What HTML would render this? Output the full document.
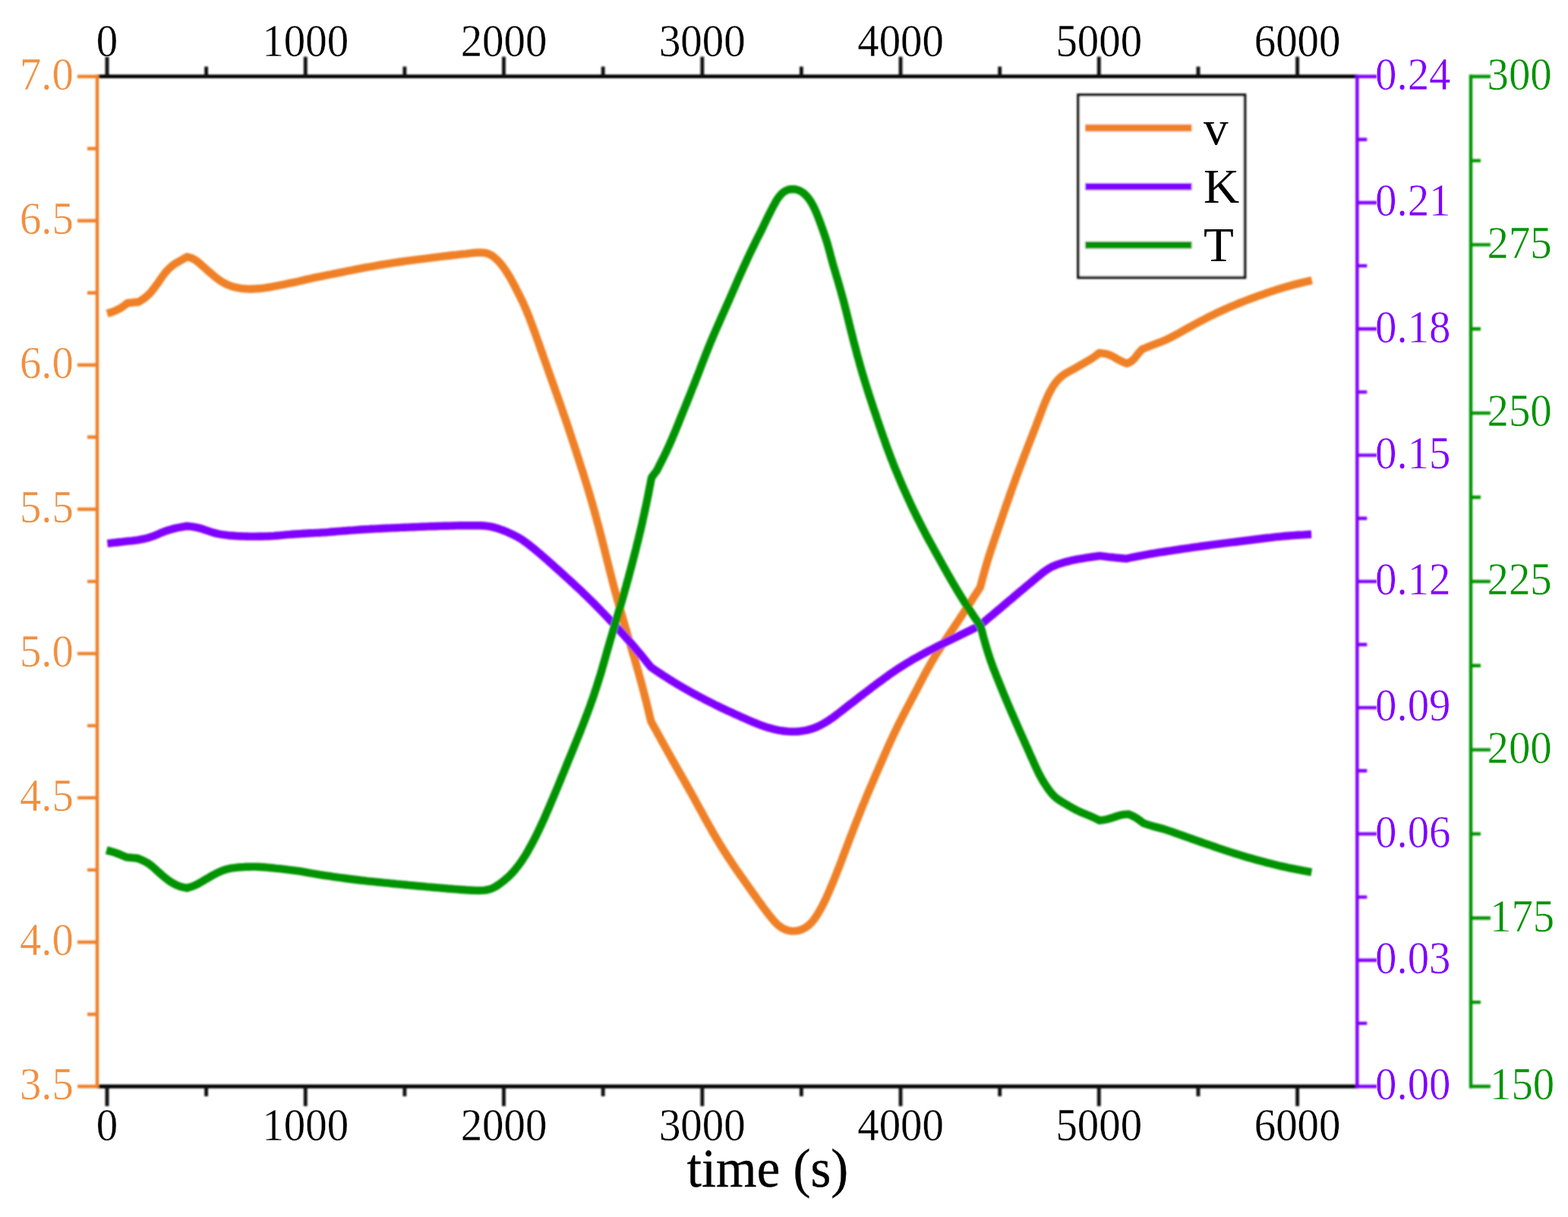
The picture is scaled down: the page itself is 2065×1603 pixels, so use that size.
<!DOCTYPE html>
<html lang="en"><head><meta charset="utf-8"><title>v, K, T versus time</title>
<style>html,body{margin:0;padding:0;background:#fff}body{width:2065px;height:1603px;overflow:hidden}svg{display:block}text{font-family:"Liberation Serif","DejaVu Serif",serif}</style></head><body>
<svg width="2065" height="1603" viewBox="0 0 2065 1603">
<rect width="2065" height="1603" fill="#fff"/>
<defs><filter id="soft" x="0" y="0" width="2065" height="1603" filterUnits="userSpaceOnUse"><feGaussianBlur stdDeviation="0.9"/></filter></defs>
<g filter="url(#soft)">
<g fill="none" stroke-width="10.4" stroke-linejoin="round" stroke-linecap="butt">
<path stroke="#EF8025" d="M141.1,413.0 145.0,411.8 148.9,410.5 152.6,409.0 156.2,407.2 159.7,405.2 163.1,403.0 167.9,399.2 172.1,398.8 176.2,398.3 182.5,397.7 186.0,395.6 189.4,393.3 192.5,390.9 195.5,388.2 198.3,385.4 200.8,382.3 203.3,379.1 205.7,375.8 208.1,372.6 210.4,369.2 212.7,365.9 215.0,362.6 217.5,359.4 220.1,356.4 222.9,353.5 225.9,350.8 229.0,348.4 232.4,346.2 235.9,344.2 239.4,342.2 242.9,340.2 246.4,338.2 250.3,339.3 254.0,340.7 257.4,342.6 260.6,345.0 263.7,347.6 266.7,350.3 269.7,352.9 272.7,355.6 275.7,358.2 278.7,360.8 281.8,363.5 284.9,366.0 288.1,368.4 291.4,370.6 294.8,372.7 298.4,374.5 302.1,376.1 305.8,377.3 309.7,378.4 313.6,379.2 317.6,379.8 321.6,380.3 325.6,380.6 329.6,380.7 333.5,380.5 337.5,380.3 341.5,380.0 345.5,379.6 349.5,379.1 353.4,378.5 357.4,377.8 361.3,377.0 365.2,376.3 369.1,375.5 373.1,374.8 377.0,374.0 380.9,373.2 384.8,372.4 388.7,371.6 392.6,370.7 396.5,369.8 400.4,368.9 404.3,367.9 408.2,367.1 412.1,366.2 416.0,365.4 419.9,364.6 423.9,363.8 427.8,363.0 431.7,362.2 435.6,361.5 439.5,360.7 443.5,359.9 447.4,359.1 451.3,358.3 455.2,357.5 459.1,356.7 463.1,356.0 467.0,355.2 470.9,354.4 474.8,353.7 478.8,352.9 482.7,352.2 486.6,351.5 490.5,350.8 494.5,350.1 498.4,349.4 502.4,348.7 506.3,348.1 510.3,347.4 514.2,346.8 518.2,346.2 522.1,345.6 526.1,345.0 530.0,344.5 534.0,343.9 537.9,343.4 541.9,342.9 545.9,342.4 549.8,341.9 553.8,341.4 557.8,340.9 561.7,340.4 565.7,339.9 569.7,339.4 573.6,338.9 577.6,338.4 581.6,337.9 585.5,337.4 589.5,337.0 593.5,336.5 597.4,336.0 601.4,335.6 605.4,335.1 609.4,334.7 613.3,334.3 617.3,333.8 621.3,333.4 625.3,333.0 629.3,332.7 633.3,332.6 637.3,332.9 641.1,333.7 644.8,335.0 648.2,336.9 651.4,339.3 654.4,342.0 657.2,344.9 659.8,347.9 662.3,351.1 664.6,354.4 666.8,357.7 669.0,361.1 671.1,364.5 673.1,367.9 675.0,371.4 676.9,375.0 678.7,378.5 680.5,382.1 682.3,385.6 684.2,389.2 685.9,392.8 687.7,396.4 689.4,400.0 691.0,403.7 692.6,407.3 694.1,411.0 695.6,414.7 697.1,418.4 698.5,422.2 699.9,425.9 701.3,429.7 702.7,433.4 704.1,437.2 705.4,440.9 706.8,444.7 708.1,448.4 709.5,452.2 710.8,456.0 712.1,459.8 713.5,463.5 714.8,467.3 716.1,471.1 717.4,474.8 718.8,478.6 720.1,482.4 721.4,486.1 722.8,489.9 724.1,493.7 725.4,497.4 726.8,501.2 728.1,505.0 729.5,508.7 730.8,512.5 732.1,516.3 733.5,520.0 734.8,523.8 736.1,527.6 737.5,531.4 738.8,535.1 740.1,538.9 741.4,542.7 742.7,546.5 744.0,550.2 745.3,554.0 746.6,557.8 747.9,561.6 749.1,565.4 750.4,569.2 751.6,573.0 752.9,576.8 754.1,580.6 755.4,584.4 756.6,588.2 757.9,592.0 759.1,595.8 760.3,599.6 761.6,603.4 762.8,607.2 764.0,611.0 765.2,614.8 766.4,618.6 767.7,622.4 768.9,626.2 770.0,630.0 771.2,633.8 772.4,637.7 773.6,641.5 774.7,645.3 775.9,649.1 777.0,653.0 778.1,656.8 779.3,660.6 780.4,664.5 781.4,668.3 782.5,672.2 783.6,676.0 784.6,679.9 785.7,683.7 786.7,687.6 787.8,691.5 788.8,695.3 789.8,699.2 790.8,703.1 791.8,706.9 792.8,710.8 793.8,714.7 794.8,718.6 795.8,722.4 796.7,726.3 797.7,730.2 798.7,734.1 799.6,737.9 800.6,741.8 801.6,745.7 802.5,749.6 803.5,753.5 804.5,757.3 805.5,761.2 806.5,765.1 807.5,768.9 808.5,772.8 809.5,776.6 810.6,780.5 811.6,784.4 812.7,788.2 813.8,792.0 814.9,795.9 816.0,799.7 817.1,803.6 818.2,807.4 819.3,811.3 820.4,815.1 821.5,818.9 822.6,822.8 823.7,826.6 824.8,830.5 825.9,834.3 827.0,838.1 828.2,842.0 829.3,845.8 830.4,849.6 831.5,853.5 832.6,857.3 833.7,861.2 834.9,865.0 836.0,868.8 837.1,872.7 838.2,876.5 839.3,880.4 840.4,884.2 841.5,888.0 842.5,891.9 843.6,895.7 844.7,899.6 845.7,903.5 846.7,907.3 847.7,911.2 848.7,915.1 849.7,918.9 850.7,922.8 851.7,926.7 852.6,930.6 853.6,934.5 854.5,938.3 855.4,942.2 856.4,946.1 857.3,950.0 859.2,953.5 861.1,957.0 863.1,960.5 865.0,964.0 866.9,967.5 868.9,971.0 870.8,974.5 872.7,978.0 874.7,981.5 876.6,985.0 878.6,988.5 880.5,992.0 882.5,995.4 884.4,998.9 886.4,1002.4 888.4,1005.9 890.3,1009.4 892.3,1012.8 894.3,1016.3 896.3,1019.8 898.2,1023.3 900.2,1026.7 902.2,1030.2 904.1,1033.7 906.1,1037.2 908.0,1040.7 910.0,1044.2 911.9,1047.7 913.9,1051.2 915.8,1054.7 917.7,1058.2 919.6,1061.7 921.5,1065.2 923.5,1068.7 925.4,1072.2 927.3,1075.7 929.2,1079.2 931.2,1082.7 933.1,1086.2 935.1,1089.7 937.0,1093.1 939.0,1096.6 941.0,1100.1 943.0,1103.5 945.1,1106.9 947.1,1110.4 949.2,1113.8 951.3,1117.2 953.4,1120.5 955.6,1123.9 957.8,1127.3 959.9,1130.6 962.1,1133.9 964.4,1137.3 966.6,1140.6 968.8,1143.9 971.1,1147.2 973.4,1150.4 975.7,1153.7 978.0,1157.0 980.3,1160.3 982.6,1163.5 984.9,1166.8 987.2,1170.0 989.5,1173.3 991.8,1176.6 994.2,1179.8 996.5,1183.1 998.8,1186.3 1001.2,1189.5 1003.5,1192.8 1005.9,1196.0 1008.3,1199.2 1010.7,1202.4 1013.2,1205.6 1015.8,1208.8 1018.4,1211.9 1021.1,1214.9 1023.9,1217.7 1026.9,1220.2 1030.2,1222.4 1033.7,1224.2 1037.4,1225.5 1041.2,1226.2 1045.1,1226.4 1049.0,1226.1 1052.9,1225.3 1056.6,1224.0 1060.1,1222.2 1063.4,1220.0 1066.4,1217.5 1069.2,1214.6 1071.8,1211.5 1074.1,1208.2 1076.3,1204.9 1078.4,1201.4 1080.4,1197.9 1082.3,1194.4 1084.2,1190.8 1085.9,1187.2 1087.7,1183.6 1089.3,1179.9 1091.0,1176.3 1092.5,1172.6 1094.1,1168.9 1095.6,1165.3 1097.2,1161.6 1098.7,1157.9 1100.2,1154.2 1101.7,1150.4 1103.1,1146.7 1104.6,1143.0 1106.0,1139.3 1107.5,1135.6 1108.9,1131.8 1110.3,1128.1 1111.7,1124.3 1113.1,1120.6 1114.5,1116.9 1116.0,1113.1 1117.4,1109.4 1118.8,1105.7 1120.2,1101.9 1121.7,1098.2 1123.1,1094.5 1124.5,1090.7 1126.0,1087.0 1127.4,1083.3 1128.9,1079.6 1130.4,1075.9 1131.9,1072.2 1133.3,1068.4 1134.8,1064.7 1136.3,1061.0 1137.9,1057.3 1139.4,1053.6 1140.9,1049.9 1142.4,1046.3 1144.0,1042.6 1145.5,1038.9 1147.1,1035.2 1148.7,1031.5 1150.2,1027.9 1151.8,1024.2 1153.4,1020.5 1155.0,1016.9 1156.6,1013.2 1158.2,1009.5 1159.8,1005.9 1161.4,1002.2 1163.0,998.5 1164.6,994.9 1166.2,991.2 1167.8,987.6 1169.4,983.9 1171.1,980.3 1172.7,976.6 1174.4,973.0 1176.1,969.4 1177.8,965.8 1179.5,962.2 1181.2,958.6 1183.0,955.0 1184.8,951.4 1186.6,947.8 1188.4,944.3 1190.2,940.7 1192.1,937.2 1193.9,933.7 1195.8,930.1 1197.7,926.6 1199.5,923.1 1201.4,919.6 1203.3,916.0 1205.1,912.5 1207.0,909.0 1208.8,905.4 1210.7,901.9 1212.5,898.3 1214.4,894.8 1216.2,891.3 1218.1,887.8 1220.0,884.3 1221.9,880.8 1223.9,877.3 1225.8,873.8 1227.8,870.4 1229.9,867.0 1231.9,863.5 1234.0,860.2 1236.1,856.8 1238.3,853.4 1240.5,850.1 1242.6,846.7 1244.8,843.4 1247.0,840.1 1249.3,836.7 1251.5,833.4 1253.7,830.1 1255.9,826.8 1258.2,823.5 1260.4,820.1 1262.6,816.8 1264.8,813.5 1267.0,810.2 1269.2,806.8 1271.4,803.5 1273.6,800.1 1275.8,796.8 1278.0,793.4 1280.2,790.1 1282.3,786.7 1284.5,783.4 1286.7,780.0 1288.8,776.7 1291.0,773.3 1292.0,769.4 1293.0,765.6 1294.0,761.7 1295.1,757.9 1296.1,754.0 1297.2,750.2 1298.3,746.3 1299.4,742.5 1300.5,738.7 1301.7,734.9 1302.9,731.1 1304.2,727.3 1305.4,723.5 1306.7,719.7 1307.9,715.9 1309.2,712.1 1310.5,708.4 1311.8,704.6 1313.1,700.8 1314.4,697.0 1315.7,693.2 1317.0,689.5 1318.3,685.7 1319.6,681.9 1320.8,678.1 1322.1,674.4 1323.4,670.6 1324.7,666.8 1326.0,663.0 1327.4,659.3 1328.7,655.5 1330.0,651.7 1331.3,648.0 1332.7,644.2 1334.0,640.5 1335.4,636.7 1336.8,633.0 1338.1,629.2 1339.5,625.5 1340.9,621.7 1342.3,618.0 1343.8,614.3 1345.2,610.5 1346.6,606.8 1348.0,603.1 1349.4,599.3 1350.9,595.6 1352.3,591.9 1353.7,588.2 1355.2,584.4 1356.6,580.7 1358.1,577.0 1359.5,573.3 1361.0,569.5 1362.4,565.8 1363.9,562.1 1365.3,558.4 1366.7,554.7 1368.1,550.9 1369.6,547.2 1371.0,543.4 1372.4,539.7 1373.9,536.0 1375.3,532.3 1376.9,528.6 1378.5,524.9 1380.1,521.3 1381.8,517.7 1383.7,514.2 1385.6,510.7 1387.8,507.3 1390.1,504.1 1392.7,501.0 1395.4,498.1 1398.4,495.5 1401.6,493.1 1405.0,491.1 1408.5,489.1 1412.0,487.2 1415.5,485.2 1419.0,483.2 1422.4,481.2 1425.9,479.2 1429.3,477.2 1432.8,475.2 1436.2,473.2 1439.6,471.1 1442.9,468.8 1447.5,465.0 1451.4,465.3 1455.3,465.8 1459.1,466.8 1462.7,468.2 1466.2,470.0 1469.7,471.9 1473.1,473.9 1476.6,475.7 1480.2,477.3 1483.8,478.8 1487.6,477.3 1490.9,475.3 1493.7,472.6 1496.2,469.4 1498.7,466.1 1501.4,463.0 1504.2,460.0 1507.9,458.5 1511.6,457.0 1515.3,455.5 1519.1,454.0 1522.8,452.6 1526.6,451.2 1530.3,449.8 1534.0,448.3 1537.6,446.6 1541.2,444.8 1544.8,443.0 1548.3,441.1 1551.8,439.2 1555.3,437.2 1558.8,435.3 1562.3,433.3 1565.8,431.4 1569.3,429.5 1572.8,427.5 1576.4,425.6 1579.9,423.7 1583.4,421.9 1587.0,420.0 1590.5,418.2 1594.1,416.4 1597.7,414.6 1601.3,412.8 1604.9,411.1 1608.5,409.5 1612.2,407.8 1615.8,406.2 1619.5,404.6 1623.2,403.0 1626.9,401.5 1630.6,399.9 1634.3,398.4 1638.0,397.0 1641.8,395.5 1645.5,394.1 1649.2,392.7 1653.0,391.3 1656.8,389.9 1660.5,388.6 1664.3,387.3 1668.1,385.9 1671.9,384.7 1675.7,383.4 1679.5,382.2 1683.3,380.9 1687.1,379.8 1691.0,378.6 1694.8,377.5 1698.7,376.4 1702.5,375.4 1706.4,374.4 1710.3,373.4 1714.2,372.4 1718.1,371.5 1721.9,370.6 1727.8,369.2"/>
<path stroke="#8000FF" d="M141.4,715.8 145.4,715.4 149.3,714.9 153.3,714.5 157.3,714.0 161.2,713.6 165.2,713.1 169.2,712.7 173.2,712.3 177.1,711.8 181.1,711.3 185.0,710.7 188.9,709.9 192.8,709.0 196.7,707.9 200.5,706.6 204.2,705.3 207.9,703.7 211.6,702.1 215.2,700.6 219.0,699.2 222.8,698.0 226.6,696.9 230.5,695.9 234.4,695.0 238.3,694.3 242.2,693.6 246.2,693.0 250.2,693.4 254.2,693.9 258.1,694.6 262.0,695.4 265.8,696.5 269.6,697.8 273.4,699.1 277.3,700.4 281.1,701.6 285.0,702.6 288.9,703.5 292.8,704.2 296.7,704.7 300.7,705.2 304.7,705.5 308.7,705.8 312.7,706.1 316.7,706.2 320.7,706.4 324.7,706.5 328.7,706.6 332.7,706.6 336.8,706.6 340.8,706.5 344.8,706.5 348.8,706.4 352.8,706.3 356.8,706.1 360.8,705.9 364.7,705.5 368.7,705.2 372.7,704.8 376.7,704.4 380.7,704.1 384.7,703.8 388.7,703.5 392.7,703.2 396.7,703.0 400.7,702.7 404.7,702.5 408.7,702.3 412.7,702.1 416.7,701.9 420.7,701.7 424.7,701.4 428.7,701.2 432.6,700.9 436.6,700.5 440.6,700.2 444.6,699.9 448.6,699.6 452.6,699.3 456.6,699.0 460.6,698.6 464.6,698.4 468.6,698.1 472.6,697.8 476.6,697.5 480.6,697.3 484.6,697.1 488.5,696.8 492.5,696.6 496.5,696.4 500.5,696.2 504.5,696.0 508.5,695.8 512.5,695.6 516.5,695.4 520.5,695.3 524.5,695.1 528.5,694.9 532.5,694.7 536.5,694.6 540.5,694.4 544.5,694.2 548.5,694.1 552.5,693.9 556.5,693.7 560.5,693.6 564.5,693.4 568.6,693.3 572.6,693.2 576.6,693.0 580.6,692.9 584.6,692.8 588.6,692.7 592.6,692.6 596.6,692.5 600.6,692.4 604.6,692.3 608.6,692.3 612.6,692.2 616.6,692.2 620.6,692.2 624.6,692.2 628.6,692.2 632.6,692.3 636.6,692.5 640.6,692.8 644.6,693.3 648.5,694.1 652.3,695.1 656.2,696.3 659.9,697.6 663.7,699.0 667.4,700.6 671.1,702.2 674.7,703.8 678.3,705.6 681.9,707.5 685.3,709.5 688.7,711.7 691.9,714.0 695.2,716.4 698.3,718.9 701.5,721.4 704.6,723.9 707.6,726.5 710.7,729.0 713.7,731.6 716.8,734.3 719.8,736.9 722.8,739.6 725.8,742.2 728.7,744.9 731.7,747.6 734.7,750.2 737.7,752.9 740.6,755.6 743.6,758.3 746.5,761.0 749.5,763.7 752.4,766.4 755.4,769.1 758.3,771.9 761.3,774.6 764.2,777.3 767.1,780.1 770.0,782.9 772.8,785.6 775.7,788.4 778.6,791.2 781.4,794.0 784.2,796.9 787.0,799.7 789.8,802.6 792.6,805.5 795.4,808.4 798.1,811.3 800.9,814.2 803.6,817.1 806.4,820.0 809.1,823.0 811.8,825.9 814.5,828.8 817.2,831.8 819.9,834.8 822.6,837.7 825.3,840.7 827.9,843.7 830.6,846.7 833.2,849.7 835.8,852.7 838.4,855.8 841.0,858.8 843.6,861.9 846.1,865.0 848.6,868.1 851.1,871.2 853.6,874.3 857.4,879.0 860.7,881.2 864.1,883.5 867.4,885.7 870.7,887.9 874.1,890.1 877.4,892.2 880.8,894.4 884.2,896.5 887.6,898.6 891.0,900.7 894.5,902.7 897.9,904.8 901.4,906.8 904.9,908.7 908.4,910.7 911.9,912.7 915.4,914.6 918.9,916.5 922.4,918.4 926.0,920.2 929.5,922.1 933.1,923.9 936.7,925.7 940.2,927.5 943.8,929.3 947.4,931.0 951.0,932.8 954.7,934.5 958.3,936.2 961.9,937.8 965.6,939.5 969.2,941.2 972.9,942.8 976.5,944.4 980.2,946.1 983.9,947.7 987.5,949.3 991.2,950.9 994.9,952.4 998.6,953.9 1002.4,955.3 1006.2,956.7 1010.0,957.9 1013.8,959.0 1017.7,960.1 1021.6,961.0 1025.5,961.8 1029.5,962.5 1033.5,963.0 1037.5,963.4 1041.5,963.6 1045.5,963.6 1049.5,963.5 1053.5,963.2 1057.5,962.7 1061.4,962.0 1065.3,961.1 1069.1,960.0 1072.9,958.6 1076.6,957.1 1080.2,955.4 1083.7,953.5 1087.2,951.5 1090.6,949.4 1093.9,947.2 1097.2,944.9 1100.4,942.5 1103.6,940.0 1106.8,937.6 1110.0,935.1 1113.1,932.7 1116.3,930.2 1119.5,927.7 1122.6,925.3 1125.8,922.8 1129.0,920.4 1132.1,917.9 1135.3,915.5 1138.5,913.0 1141.7,910.6 1144.9,908.2 1148.0,905.7 1151.2,903.3 1154.4,900.9 1157.7,898.5 1160.9,896.2 1164.1,893.8 1167.4,891.5 1170.6,889.1 1173.9,886.8 1177.2,884.6 1180.5,882.3 1183.8,880.1 1187.2,878.0 1190.6,875.8 1194.0,873.7 1197.4,871.7 1200.8,869.6 1204.3,867.6 1207.8,865.7 1211.3,863.7 1214.8,861.8 1218.3,859.9 1221.8,858.0 1225.4,856.2 1228.9,854.3 1232.5,852.5 1236.1,850.7 1239.7,848.9 1243.2,847.1 1246.8,845.3 1250.4,843.6 1254.0,841.8 1257.6,840.1 1261.2,838.3 1264.8,836.5 1268.4,834.8 1272.0,833.0 1275.6,831.3 1279.2,829.5 1282.8,827.7 1286.4,826.0 1290.0,824.2 1293.1,821.6 1296.2,819.0 1299.2,816.4 1302.3,813.8 1305.4,811.3 1308.5,808.7 1311.6,806.1 1314.6,803.5 1317.7,800.9 1320.8,798.3 1323.8,795.7 1326.9,793.1 1330.0,790.5 1333.1,787.9 1336.1,785.3 1339.2,782.7 1342.3,780.1 1345.4,777.5 1348.5,774.9 1351.6,772.3 1354.7,769.8 1357.8,767.2 1360.9,764.6 1364.0,762.0 1367.0,759.5 1370.1,756.9 1373.3,754.3 1376.5,752.0 1379.8,749.7 1385.0,746.6 1388.7,745.1 1392.3,743.7 1396.1,742.4 1399.8,741.2 1403.6,740.1 1407.5,739.1 1411.3,738.2 1415.2,737.4 1419.0,736.7 1422.9,736.0 1426.8,735.4 1430.7,734.7 1434.6,734.1 1438.5,733.5 1442.4,733.0 1448.3,732.1 1452.2,732.6 1456.1,733.1 1459.9,733.6 1463.8,734.0 1467.7,734.4 1471.6,734.8 1475.5,735.1 1479.4,735.5 1483.3,735.8 1487.2,735.0 1491.1,734.2 1495.1,733.4 1499.0,732.6 1502.9,731.8 1506.8,731.1 1510.8,730.4 1514.7,729.6 1518.7,729.0 1522.6,728.3 1526.5,727.7 1530.5,727.1 1534.5,726.5 1538.4,725.9 1542.4,725.3 1546.3,724.7 1550.3,724.1 1554.2,723.5 1558.2,722.9 1562.2,722.3 1566.1,721.8 1570.1,721.2 1574.0,720.6 1578.0,720.1 1582.0,719.5 1585.9,719.0 1589.9,718.5 1593.9,717.9 1597.8,717.4 1601.8,716.9 1605.8,716.4 1609.7,715.9 1613.7,715.4 1617.7,714.9 1621.6,714.4 1625.6,714.0 1629.6,713.5 1633.6,713.0 1637.5,712.5 1641.5,712.0 1645.5,711.5 1649.4,711.0 1653.4,710.5 1657.4,710.0 1661.4,709.5 1665.3,709.0 1669.3,708.5 1673.3,708.1 1677.2,707.6 1681.2,707.2 1685.2,706.8 1689.2,706.4 1693.2,706.0 1697.2,705.7 1701.1,705.4 1705.1,705.1 1709.1,704.8 1713.1,704.6 1717.1,704.4 1721.1,704.1 1727.1,703.8"/>
<path stroke="#009300" d="M140.2,1119.9 144.0,1120.9 147.9,1122.0 151.6,1123.1 155.4,1124.5 159.0,1125.9 162.7,1127.5 166.3,1129.1 170.5,1129.5 174.6,1129.9 180.9,1130.5 184.7,1131.9 188.3,1133.5 191.9,1135.3 195.2,1137.2 198.4,1139.5 201.4,1142.0 204.4,1144.7 207.3,1147.4 210.3,1150.0 213.3,1152.7 216.4,1155.2 219.4,1157.7 222.6,1160.1 225.9,1162.3 229.3,1164.3 232.9,1166.0 236.5,1167.4 240.3,1168.5 246.2,1169.7 250.1,1168.6 253.9,1167.3 257.5,1165.8 261.1,1164.0 264.6,1162.0 268.0,1160.0 271.4,1157.9 274.9,1155.9 278.3,1153.9 281.9,1152.0 285.4,1150.1 289.0,1148.4 292.7,1146.8 296.5,1145.5 300.3,1144.5 304.2,1143.7 308.2,1143.1 312.2,1142.6 316.2,1142.3 320.1,1142.1 324.1,1141.8 328.1,1141.7 332.1,1141.6 336.1,1141.6 340.1,1141.8 344.1,1142.0 348.1,1142.3 352.1,1142.6 356.1,1143.0 360.0,1143.3 364.0,1143.8 368.0,1144.2 372.0,1144.7 375.9,1145.2 379.9,1145.7 383.9,1146.1 387.8,1146.6 391.8,1147.2 395.7,1147.7 399.7,1148.4 403.6,1149.1 407.6,1149.8 411.5,1150.5 415.4,1151.2 419.4,1151.8 423.3,1152.5 427.3,1153.1 431.2,1153.6 435.2,1154.2 439.1,1154.8 443.1,1155.3 447.0,1155.9 451.0,1156.4 455.0,1157.0 458.9,1157.5 462.9,1158.0 466.9,1158.5 470.8,1159.0 474.8,1159.5 478.8,1159.9 482.7,1160.4 486.7,1160.8 490.7,1161.2 494.6,1161.6 498.6,1162.0 502.6,1162.4 506.6,1162.8 510.6,1163.2 514.5,1163.6 518.5,1164.0 522.5,1164.4 526.5,1164.7 530.4,1165.1 534.4,1165.5 538.4,1165.9 542.4,1166.2 546.4,1166.6 550.3,1167.0 554.3,1167.3 558.3,1167.7 562.3,1168.1 566.3,1168.4 570.2,1168.8 574.2,1169.1 578.2,1169.4 582.2,1169.8 586.2,1170.1 590.1,1170.5 594.1,1170.8 598.1,1171.1 602.1,1171.4 606.1,1171.7 610.1,1172.0 614.1,1172.3 618.0,1172.5 622.0,1172.7 626.1,1172.9 630.1,1173.0 634.1,1172.9 638.0,1172.6 642.0,1172.0 645.8,1171.0 649.5,1169.5 653.0,1167.6 656.3,1165.5 659.6,1163.1 662.8,1160.7 665.9,1158.1 668.9,1155.5 671.8,1152.8 674.5,1149.9 677.2,1146.9 679.7,1143.8 682.2,1140.7 684.6,1137.5 686.9,1134.2 689.1,1130.9 691.3,1127.5 693.4,1124.1 695.4,1120.6 697.3,1117.1 699.3,1113.6 701.2,1110.1 703.0,1106.6 704.9,1103.0 706.6,1099.5 708.4,1095.9 710.1,1092.3 711.8,1088.7 713.5,1085.0 715.2,1081.4 716.8,1077.8 718.4,1074.1 720.0,1070.4 721.6,1066.8 723.2,1063.1 724.8,1059.4 726.3,1055.7 727.9,1052.1 729.4,1048.4 731.0,1044.7 732.5,1041.0 734.1,1037.3 735.6,1033.6 737.1,1029.9 738.6,1026.2 740.1,1022.5 741.7,1018.8 743.2,1015.1 744.7,1011.4 746.2,1007.7 747.7,1004.0 749.2,1000.3 750.8,996.6 752.3,992.9 753.8,989.2 755.3,985.5 756.8,981.8 758.3,978.1 759.8,974.4 761.3,970.7 762.8,967.0 764.3,963.3 765.7,959.6 767.2,955.9 768.7,952.1 770.1,948.4 771.5,944.7 772.9,941.0 774.3,937.2 775.7,933.5 777.1,929.7 778.4,925.9 779.8,922.2 781.1,918.4 782.4,914.6 783.6,910.8 784.9,907.1 786.1,903.3 787.3,899.4 788.5,895.6 789.7,891.8 790.9,888.0 792.0,884.2 793.1,880.3 794.2,876.5 795.3,872.7 796.4,868.8 797.5,865.0 798.6,861.1 799.7,857.3 800.8,853.4 801.9,849.6 803.0,845.8 804.1,841.9 805.2,838.1 806.4,834.2 807.5,830.4 808.6,826.6 809.7,822.7 810.9,818.9 812.0,815.1 813.2,811.3 814.3,807.4 815.4,803.6 816.6,799.8 817.7,795.9 818.8,792.1 819.9,788.3 821.0,784.4 822.1,780.6 823.2,776.7 824.3,772.9 825.3,769.0 826.4,765.2 827.5,761.3 828.5,757.5 829.5,753.6 830.6,749.7 831.6,745.9 832.6,742.0 833.6,738.2 834.6,734.3 835.6,730.4 836.6,726.5 837.6,722.7 838.5,718.8 839.5,714.9 840.5,711.0 841.4,707.1 842.3,703.3 843.3,699.4 844.2,695.5 845.1,691.6 846.0,687.7 846.8,683.8 847.7,679.9 848.6,676.0 849.4,672.1 850.2,668.2 851.1,664.3 851.9,660.4 852.7,656.4 853.5,652.5 854.3,648.6 855.0,644.7 855.8,640.8 856.6,636.8 857.3,632.9 858.1,629.0 860.4,625.9 862.7,622.9 865.0,619.8 866.8,616.3 868.6,612.7 870.4,609.2 872.2,605.6 874.0,602.0 875.7,598.4 877.5,594.8 879.1,591.2 880.8,587.6 882.4,583.9 884.0,580.3 885.6,576.6 887.1,572.9 888.7,569.3 890.2,565.6 891.7,561.9 893.2,558.2 894.7,554.5 896.2,550.7 897.7,547.0 899.2,543.3 900.7,539.6 902.2,535.9 903.7,532.2 905.2,528.5 906.7,524.8 908.2,521.1 909.7,517.3 911.1,513.6 912.6,509.9 914.1,506.2 915.6,502.5 917.0,498.7 918.5,495.0 919.9,491.3 921.4,487.6 922.8,483.8 924.2,480.1 925.7,476.4 927.1,472.7 928.6,468.9 930.0,465.2 931.5,461.5 933.0,457.8 934.5,454.1 936.0,450.4 937.6,446.7 939.1,443.0 940.7,439.4 942.3,435.7 943.9,432.0 945.5,428.4 947.1,424.7 948.7,421.1 950.3,417.4 952.0,413.7 953.6,410.1 955.2,406.4 956.8,402.8 958.4,399.1 960.1,395.5 961.7,391.8 963.3,388.2 964.9,384.5 966.5,380.8 968.1,377.2 969.7,373.5 971.3,369.8 972.9,366.2 974.5,362.5 976.2,358.9 977.8,355.2 979.4,351.6 981.1,348.0 982.8,344.3 984.4,340.7 986.1,337.1 987.8,333.5 989.6,329.9 991.3,326.3 993.1,322.7 994.8,319.1 996.6,315.5 998.4,311.9 1000.2,308.4 1002.0,304.8 1003.8,301.2 1005.5,297.6 1007.2,294.0 1009.0,290.4 1010.7,286.8 1012.5,283.2 1014.3,279.6 1016.1,276.0 1018.0,272.3 1020.0,268.7 1022.0,265.1 1024.2,261.6 1026.6,258.4 1029.2,255.4 1032.1,252.9 1035.3,251.0 1038.8,249.7 1042.5,249.1 1046.3,249.2 1050.0,250.0 1053.6,251.4 1056.9,253.4 1060.0,255.9 1062.8,258.8 1065.3,262.0 1067.6,265.3 1069.7,268.9 1071.6,272.5 1073.4,276.2 1075.0,279.9 1076.5,283.6 1078.0,287.4 1079.4,291.1 1080.8,294.9 1082.1,298.6 1083.5,302.4 1084.8,306.2 1086.1,310.0 1087.4,313.7 1088.6,317.6 1089.8,321.4 1090.8,325.2 1091.9,329.1 1092.9,332.9 1093.9,336.8 1095.0,340.7 1096.0,344.5 1097.1,348.4 1098.2,352.2 1099.4,356.0 1100.5,359.9 1101.6,363.7 1102.8,367.5 1103.9,371.4 1105.0,375.2 1106.1,379.1 1107.2,382.9 1108.3,386.8 1109.3,390.6 1110.4,394.5 1111.4,398.3 1112.4,402.2 1113.4,406.1 1114.4,410.0 1115.3,413.8 1116.3,417.7 1117.3,421.6 1118.2,425.5 1119.2,429.4 1120.1,433.2 1121.1,437.1 1122.1,441.0 1123.1,444.9 1124.0,448.8 1125.0,452.6 1126.1,456.5 1127.1,460.4 1128.1,464.2 1129.1,468.1 1130.2,471.9 1131.3,475.8 1132.3,479.7 1133.4,483.5 1134.5,487.3 1135.6,491.2 1136.8,495.0 1137.9,498.8 1139.1,502.7 1140.3,506.5 1141.5,510.3 1142.7,514.1 1143.9,517.9 1145.1,521.7 1146.4,525.5 1147.6,529.3 1148.9,533.1 1150.1,536.9 1151.4,540.7 1152.7,544.5 1154.0,548.3 1155.2,552.1 1156.5,555.8 1157.8,559.6 1159.1,563.4 1160.4,567.2 1161.7,571.0 1163.0,574.8 1164.4,578.5 1165.7,582.3 1167.0,586.1 1168.4,589.8 1169.8,593.6 1171.2,597.3 1172.6,601.1 1174.0,604.8 1175.5,608.5 1176.9,612.2 1178.4,615.9 1179.9,619.6 1181.5,623.3 1183.0,627.0 1184.6,630.7 1186.1,634.4 1187.7,638.1 1189.3,641.7 1190.9,645.4 1192.6,649.0 1194.2,652.7 1195.9,656.3 1197.5,659.9 1199.2,663.6 1200.9,667.2 1202.6,670.8 1204.4,674.4 1206.1,678.0 1207.9,681.6 1209.7,685.2 1211.5,688.7 1213.3,692.3 1215.1,695.8 1217.0,699.4 1218.8,702.9 1220.7,706.4 1222.6,710.0 1224.5,713.5 1226.5,717.0 1228.4,720.5 1230.3,724.0 1232.2,727.5 1234.2,731.0 1236.1,734.5 1238.1,738.0 1240.0,741.5 1242.0,745.0 1243.9,748.5 1245.9,751.9 1247.8,755.4 1249.8,758.9 1251.8,762.4 1253.8,765.8 1255.8,769.3 1257.8,772.7 1259.9,776.2 1261.9,779.6 1264.0,783.0 1266.1,786.4 1268.2,789.8 1270.3,793.1 1272.5,796.5 1274.7,799.8 1276.8,803.2 1279.1,806.5 1281.3,809.8 1283.5,813.1 1285.7,816.4 1288.0,819.7 1291.3,824.6 1292.3,828.5 1293.4,832.3 1294.4,836.2 1295.4,840.0 1296.5,843.9 1297.6,847.7 1298.7,851.6 1299.9,855.4 1301.0,859.2 1302.3,863.0 1303.5,866.8 1304.8,870.6 1306.2,874.3 1307.5,878.1 1308.9,881.8 1310.4,885.5 1311.8,889.2 1313.3,892.9 1314.8,896.6 1316.3,900.3 1317.8,904.0 1319.3,907.7 1320.8,911.4 1322.3,915.1 1323.9,918.8 1325.4,922.5 1327.0,926.2 1328.5,929.8 1330.1,933.5 1331.7,937.2 1333.3,940.9 1334.9,944.5 1336.5,948.2 1338.1,951.8 1339.7,955.5 1341.3,959.2 1342.9,962.8 1344.5,966.5 1346.2,970.1 1347.8,973.8 1349.4,977.4 1351.0,981.1 1352.7,984.7 1354.3,988.4 1355.9,992.0 1357.5,995.7 1359.2,999.3 1360.8,1003.0 1362.4,1006.6 1364.1,1010.3 1365.8,1013.9 1367.5,1017.5 1369.3,1021.1 1371.2,1024.6 1373.2,1028.0 1375.3,1031.4 1377.5,1034.8 1379.7,1038.1 1382.1,1041.4 1384.5,1044.5 1387.2,1047.5 1390.1,1050.2 1393.2,1052.7 1396.5,1054.9 1399.9,1057.0 1403.4,1059.0 1406.8,1061.0 1410.3,1063.1 1413.8,1065.0 1417.3,1066.9 1420.9,1068.6 1424.5,1070.3 1428.2,1071.8 1431.9,1073.3 1435.6,1074.8 1439.3,1076.4 1442.9,1078.1 1448.3,1080.7 1452.4,1080.2 1456.4,1079.5 1460.4,1078.5 1464.3,1077.3 1468.1,1076.0 1472.0,1074.7 1476.0,1073.6 1480.0,1072.9 1486.1,1072.4 1489.9,1074.0 1493.6,1075.8 1497.1,1077.8 1500.5,1080.2 1505.4,1084.0 1509.2,1085.3 1513.0,1086.6 1516.8,1087.8 1520.6,1088.9 1524.5,1089.9 1528.3,1090.9 1532.2,1091.9 1536.0,1093.1 1539.8,1094.4 1543.5,1095.7 1547.3,1097.0 1551.1,1098.3 1554.8,1099.7 1558.6,1101.0 1562.4,1102.3 1566.1,1103.7 1569.9,1105.0 1573.6,1106.3 1577.4,1107.7 1581.2,1109.0 1584.9,1110.3 1588.7,1111.6 1592.5,1112.9 1596.2,1114.2 1600.0,1115.5 1603.8,1116.8 1607.6,1118.1 1611.4,1119.4 1615.2,1120.6 1619.0,1121.9 1622.8,1123.1 1626.6,1124.3 1630.4,1125.4 1634.2,1126.6 1638.0,1127.8 1641.8,1128.9 1645.7,1130.0 1649.5,1131.1 1653.3,1132.2 1657.2,1133.3 1661.0,1134.3 1664.9,1135.3 1668.8,1136.4 1672.6,1137.3 1676.5,1138.3 1680.4,1139.2 1684.3,1140.2 1688.2,1141.1 1692.0,1141.9 1695.9,1142.8 1699.9,1143.6 1703.8,1144.4 1707.7,1145.2 1711.6,1145.9 1715.5,1146.7 1719.4,1147.4 1723.4,1148.1 1727.3,1148.8"/>
</g>
<path d="M128.0,100.7H1787.3 M128.0,1431.0H1787.3" stroke="#000" stroke-width="4.8" fill="none"/>
<path d="M141.0,100.7v-26 M141.0,1431.0v26 M271.6,100.7v-13 M271.6,1431.0v13 M402.3,100.7v-26 M402.3,1431.0v26 M532.9,100.7v-13 M532.9,1431.0v13 M663.5,100.7v-26 M663.5,1431.0v26 M794.2,100.7v-13 M794.2,1431.0v13 M924.8,100.7v-26 M924.8,1431.0v26 M1055.4,100.7v-13 M1055.4,1431.0v13 M1186.1,100.7v-26 M1186.1,1431.0v26 M1316.7,100.7v-13 M1316.7,1431.0v13 M1447.3,100.7v-26 M1447.3,1431.0v26 M1578.0,100.7v-13 M1578.0,1431.0v13 M1708.6,100.7v-26 M1708.6,1431.0v26" stroke="#111" stroke-width="4.8" fill="none"/>
<path d="M128.0,98.3V1433.4 M128.0,100.7h-26 M128.0,195.7h-13 M128.0,290.7h-26 M128.0,385.8h-13 M128.0,480.8h-26 M128.0,575.8h-13 M128.0,670.8h-26 M128.0,765.9h-13 M128.0,860.9h-26 M128.0,955.9h-13 M128.0,1050.9h-26 M128.0,1145.9h-13 M128.0,1241.0h-26 M128.0,1336.0h-13 M128.0,1431.0h-26" stroke="#EF8025" stroke-width="4.4" fill="none"/>
<path d="M1787.3,98.3V1433.4 M1787.3,100.7h26 M1787.3,183.8h13 M1787.3,267.0h26 M1787.3,350.1h13 M1787.3,433.3h26 M1787.3,516.4h13 M1787.3,599.6h26 M1787.3,682.7h13 M1787.3,765.9h26 M1787.3,849.0h13 M1787.3,932.1h26 M1787.3,1015.3h13 M1787.3,1098.4h26 M1787.3,1181.6h13 M1787.3,1264.7h26 M1787.3,1347.9h13 M1787.3,1431.0h26" stroke="#8000FF" stroke-width="4.4" fill="none"/>
<path d="M1937.0,98.3V1433.4 M1937.0,100.7h26 M1937.0,211.6h13 M1937.0,322.4h26 M1937.0,433.3h13 M1937.0,544.1h26 M1937.0,655.0h13 M1937.0,765.9h26 M1937.0,876.7h13 M1937.0,987.6h26 M1937.0,1098.4h13 M1937.0,1209.3h26 M1937.0,1320.1h13 M1937.0,1431.0h26" stroke="#009300" stroke-width="4.4" fill="none"/>
</g><g>
<g fill="#000" fill-opacity="1">
<text transform="translate(141.0,73.8) scale(0.925,1)" text-anchor="middle" font-size="61.5" stroke="#fff" stroke-width="0.35">0</text>
<text transform="translate(402.3,73.8) scale(0.925,1)" text-anchor="middle" font-size="61.5" stroke="#fff" stroke-width="0.35">1000</text>
<text transform="translate(663.5,73.8) scale(0.925,1)" text-anchor="middle" font-size="61.5" stroke="#fff" stroke-width="0.35">2000</text>
<text transform="translate(924.8,73.8) scale(0.925,1)" text-anchor="middle" font-size="61.5" stroke="#fff" stroke-width="0.35">3000</text>
<text transform="translate(1186.1,73.8) scale(0.925,1)" text-anchor="middle" font-size="61.5" stroke="#fff" stroke-width="0.35">4000</text>
<text transform="translate(1447.3,73.8) scale(0.925,1)" text-anchor="middle" font-size="61.5" stroke="#fff" stroke-width="0.35">5000</text>
<text transform="translate(1708.6,73.8) scale(0.925,1)" text-anchor="middle" font-size="61.5" stroke="#fff" stroke-width="0.35">6000</text>
<text transform="translate(141.0,1501.8) scale(0.925,1)" text-anchor="middle" font-size="61.5" stroke="#fff" stroke-width="0.35">0</text>
<text transform="translate(402.3,1501.8) scale(0.925,1)" text-anchor="middle" font-size="61.5" stroke="#fff" stroke-width="0.35">1000</text>
<text transform="translate(663.5,1501.8) scale(0.925,1)" text-anchor="middle" font-size="61.5" stroke="#fff" stroke-width="0.35">2000</text>
<text transform="translate(924.8,1501.8) scale(0.925,1)" text-anchor="middle" font-size="61.5" stroke="#fff" stroke-width="0.35">3000</text>
<text transform="translate(1186.1,1501.8) scale(0.925,1)" text-anchor="middle" font-size="61.5" stroke="#fff" stroke-width="0.35">4000</text>
<text transform="translate(1447.3,1501.8) scale(0.925,1)" text-anchor="middle" font-size="61.5" stroke="#fff" stroke-width="0.35">5000</text>
<text transform="translate(1708.6,1501.8) scale(0.925,1)" text-anchor="middle" font-size="61.5" stroke="#fff" stroke-width="0.35">6000</text>
<text transform="translate(1011.0,1563.0) scale(0.97,1)" text-anchor="middle" font-size="71" stroke="#000" stroke-width="0.4">time (s)</text>
</g>
<g fill="#EF8025" fill-opacity="0.88">
<text transform="translate(97.0,118.0) scale(0.925,1)" text-anchor="end" font-size="61.5" stroke="#fff" stroke-width="0.5">7.0</text>
<text transform="translate(97.0,308.0) scale(0.925,1)" text-anchor="end" font-size="61.5" stroke="#fff" stroke-width="0.5">6.5</text>
<text transform="translate(97.0,498.1) scale(0.925,1)" text-anchor="end" font-size="61.5" stroke="#fff" stroke-width="0.5">6.0</text>
<text transform="translate(97.0,688.1) scale(0.925,1)" text-anchor="end" font-size="61.5" stroke="#fff" stroke-width="0.5">5.5</text>
<text transform="translate(97.0,878.2) scale(0.925,1)" text-anchor="end" font-size="61.5" stroke="#fff" stroke-width="0.5">5.0</text>
<text transform="translate(97.0,1068.2) scale(0.925,1)" text-anchor="end" font-size="61.5" stroke="#fff" stroke-width="0.5">4.5</text>
<text transform="translate(97.0,1258.3) scale(0.925,1)" text-anchor="end" font-size="61.5" stroke="#fff" stroke-width="0.5">4.0</text>
<text transform="translate(97.0,1448.3) scale(0.925,1)" text-anchor="end" font-size="61.5" stroke="#fff" stroke-width="0.5">3.5</text>
</g>
<g fill="#8000FF" fill-opacity="1">
<text transform="translate(1811.0,118.0) scale(0.925,1)" text-anchor="start" font-size="61.5" stroke="#fff" stroke-width="0.5">0.24</text>
<text transform="translate(1811.0,284.3) scale(0.925,1)" text-anchor="start" font-size="61.5" stroke="#fff" stroke-width="0.5">0.21</text>
<text transform="translate(1811.0,450.6) scale(0.925,1)" text-anchor="start" font-size="61.5" stroke="#fff" stroke-width="0.5">0.18</text>
<text transform="translate(1811.0,616.9) scale(0.925,1)" text-anchor="start" font-size="61.5" stroke="#fff" stroke-width="0.5">0.15</text>
<text transform="translate(1811.0,783.1) scale(0.925,1)" text-anchor="start" font-size="61.5" stroke="#fff" stroke-width="0.5">0.12</text>
<text transform="translate(1811.0,949.4) scale(0.925,1)" text-anchor="start" font-size="61.5" stroke="#fff" stroke-width="0.5">0.09</text>
<text transform="translate(1811.0,1115.7) scale(0.925,1)" text-anchor="start" font-size="61.5" stroke="#fff" stroke-width="0.5">0.06</text>
<text transform="translate(1811.0,1282.0) scale(0.925,1)" text-anchor="start" font-size="61.5" stroke="#fff" stroke-width="0.5">0.03</text>
<text transform="translate(1811.0,1448.3) scale(0.925,1)" text-anchor="start" font-size="61.5" stroke="#fff" stroke-width="0.5">0.00</text>
</g>
<g fill="#009300" fill-opacity="1">
<text transform="translate(1958.5,118.0) scale(0.925,1)" text-anchor="start" font-size="61.5" stroke="#fff" stroke-width="0.5">300</text>
<text transform="translate(1958.5,339.7) scale(0.925,1)" text-anchor="start" font-size="61.5" stroke="#fff" stroke-width="0.5">275</text>
<text transform="translate(1958.5,561.4) scale(0.925,1)" text-anchor="start" font-size="61.5" stroke="#fff" stroke-width="0.5">250</text>
<text transform="translate(1958.5,783.1) scale(0.925,1)" text-anchor="start" font-size="61.5" stroke="#fff" stroke-width="0.5">225</text>
<text transform="translate(1958.5,1004.9) scale(0.925,1)" text-anchor="start" font-size="61.5" stroke="#fff" stroke-width="0.5">200</text>
<text transform="translate(1962.0,1226.6) scale(0.925,1)" text-anchor="start" font-size="61.5" stroke="#fff" stroke-width="0.5">175</text>
<text transform="translate(1962.0,1448.3) scale(0.925,1)" text-anchor="start" font-size="61.5" stroke="#fff" stroke-width="0.5">150</text>
</g>
</g><g filter="url(#soft)">
<rect x="1420" y="125" width="219.5" height="240.5" fill="#fff" stroke="#111" stroke-width="3.6"/>
<path d="M1429,168.5H1569.5" stroke="#EF8025" stroke-width="9.4" fill="none"/>
<path d="M1429,245.8H1569.5" stroke="#8000FF" stroke-width="9.4" fill="none"/>
<path d="M1429,322.7H1569.5" stroke="#009300" stroke-width="9.4" fill="none"/>
</g><g>
<g fill="#000" fill-opacity="1">
<text transform="translate(1585.0,189.5) scale(1.02,1)" text-anchor="start" font-size="64" >v</text>
<text transform="translate(1585.0,266.5) scale(1.02,1)" text-anchor="start" font-size="64" >K</text>
<text transform="translate(1585.0,344.0) scale(1.02,1)" text-anchor="start" font-size="64" >T</text>
</g>
</g>

</svg></body></html>
